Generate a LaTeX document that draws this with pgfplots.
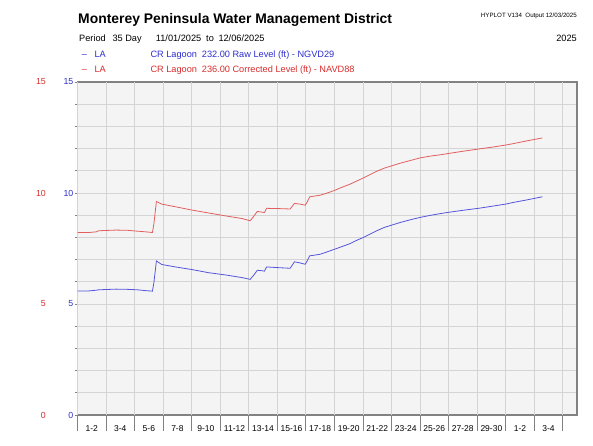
\documentclass[border=0pt]{standalone}
\usepackage{pgfplots}
\pgfplotsset{compat=1.18}
\usepackage{pgfplotstable}
\usepackage{fontspec}
\setmainfont{Liberation Sans}
\definecolor{bluetxt}{RGB}{45,45,205}
\definecolor{redtxt}{RGB}{215,45,45}
\definecolor{blueline}{RGB}{85,85,220}
\definecolor{redline}{RGB}{225,95,95}
\definecolor{bgc}{RGB}{244,244,244}
\definecolor{gridc}{RGB}{212,212,212}
\definecolor{framec}{RGB}{130,130,130}

\pgfplotstableread{
day val
0.0 5.59
0.8 5.59
1.3 5.62
1.5 5.64
2.7 5.67
3.5 5.66
4.2 5.64
4.8 5.60
5.25 5.58
5.35 5.95
5.53 6.94
5.9 6.78
6.86 6.67
8.03 6.55
9.19 6.41
10.36 6.31
11.53 6.19
12.1 6.11
12.35 6.30
12.6 6.52
12.9 6.50
13.1 6.48
13.25 6.67
14.0 6.64
14.9 6.61
15.2 6.90
15.6 6.85
15.96 6.79
16.1 6.95
16.27 7.17
16.6 7.20
17.0 7.24
17.5 7.35
17.94 7.45
18.5 7.58
19.1 7.72
19.6 7.88
20.04 8.00
20.5 8.15
20.97 8.30
21.5 8.45
22.0 8.55
22.6 8.67
23.3 8.79
24.0 8.90
24.7 8.99
25.4 9.07
26.0 9.13
27.0 9.22
28.2 9.32
29.0 9.40
30.0 9.50
30.5 9.57
31.5 9.69
32.57 9.83
}\rawtable

\pgfplotstableread{
day val
0.0 8.22
0.8 8.22
1.3 8.25
1.5 8.30
2.7 8.33
3.5 8.32
4.2 8.28
4.8 8.25
5.25 8.22
5.35 8.60
5.53 9.62
5.9 9.50
6.86 9.38
8.03 9.23
9.19 9.10
10.36 8.97
11.53 8.85
12.1 8.75
12.35 8.95
12.6 9.17
12.9 9.14
13.1 9.12
13.25 9.31
14.0 9.30
14.9 9.28
15.2 9.53
15.6 9.50
15.96 9.45
16.1 9.60
16.27 9.83
16.6 9.86
17.0 9.90
17.5 10.00
17.94 10.10
18.5 10.25
19.1 10.40
19.6 10.55
20.04 10.68
20.5 10.83
20.97 10.98
21.5 11.12
22.0 11.22
22.6 11.34
23.3 11.46
24.0 11.58
24.7 11.66
25.4 11.72
26.0 11.78
27.0 11.88
28.2 11.99
29.0 12.06
30.0 12.16
30.5 12.22
31.5 12.35
32.57 12.48
}\cortable

\begin{document}
\begin{tikzpicture}[x=1pt,y=1pt]
\path[use as bounding box] (0,0) rectangle (593,445);
% header
\node[anchor=base west, inner sep=0pt, font=\fontsize{13.9}{16}\selectfont\bfseries] at (78,421) {Monterey Peninsula Water Management District};
\node[anchor=base east, inner sep=0pt, font=\fontsize{6.2}{7}\selectfont] at (577,427.5) {HYPLOT V134\ \ Output 12/03/2025};
\begin{scope}[every node/.style={anchor=base west, inner sep=0pt, font=\fontsize{9.2}{11}\selectfont}]
\node at (79,403) {Period};
\node at (112.3,403) {35 Day};
\node at (155.7,403) {11/01/2025};
\node at (206,403) {to};
\node at (218.3,403) {12/06/2025};
\node[text=bluetxt] at (81.7,387.7) {--};
\node[text=bluetxt] at (94.3,387.7) {LA};
\node[text=bluetxt] at (150.3,387.7) {CR Lagoon};
\node[text=bluetxt] at (201.7,387.7) {232.00 Raw Level (ft) - NGVD29};
\node[text=redtxt] at (81.7,372.3) {--};
\node[text=redtxt] at (94.3,372.3) {LA};
\node[text=redtxt] at (150.3,372.3) {CR Lagoon};
\node[text=redtxt] at (201.7,372.3) {236.00 Corrected Level (ft) - NAVD88};
\end{scope}
\node[anchor=base east, inner sep=0pt, font=\fontsize{9.2}{11}\selectfont] at (577,403) {2025};

\begin{axis}[
  at={(77.5pt,30pt)}, anchor=south west,
  scale only axis, width=499.5pt, height=333pt,
  xmin=0, xmax=35, ymin=0, ymax=15,
  axis background/.style={fill=bgc},
  axis line style={draw=framec, line width=1.1pt},
  ytick={0,5,10,15}, minor y tick num=4,
  ymajorgrids, yminorgrids, xmajorgrids,
  grid style={draw=gridc, line width=0.8pt},
  minor grid style={draw=gridc, line width=0.8pt},
  tick pos=left, tick align=outside,
  major tick length=2.5pt, minor tick length=2.5pt,
  every tick/.style={draw=framec, line width=0.8pt},
  xtick={0,2,...,34},
  xticklabels={1-2,3-4,5-6,7-8,9-10,11-12,13-14,15-16,17-18,19-20,21-22,23-24,25-26,27-28,29-30,1-2,3-4,{}},
  xticklabel style={xshift=14.27pt, yshift=-4.5pt, font=\fontsize{8.5}{10}\selectfont},
  extra x ticks={0,2,...,34},
  extra x tick labels={},
  extra x tick style={major tick length=16pt},
  /pgf/number format/assume math mode=true,
  yticklabel={\llap{\color{redtxt}\pgfmathprintnumber{\tick}\hspace{27.5pt}}\llap{\color{bluetxt}\pgfmathprintnumber{\tick}}},
  yticklabel style={anchor=east, inner sep=0pt, xshift=-1pt, font=\fontsize{8.8}{10}\selectfont},
]
\addplot[draw=blueline, line width=0.8pt, mark=none] table[x=day,y=val] {\rawtable};
\addplot[draw=redline, line width=0.8pt, mark=none] table[x=day,y=val] {\cortable};
\end{axis}
\end{tikzpicture}
\end{document}
